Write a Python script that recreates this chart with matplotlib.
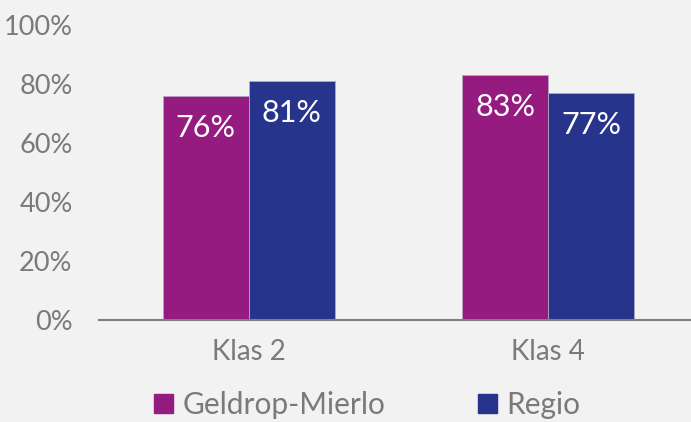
import numpy as np
import matplotlib.pyplot as plt
from matplotlib.patches import Patch

categories = ['Klas 2', 'Klas 4']
series_names = ['Geldrop-Mierlo', 'Regio']
geldrop = [0.76, 0.83]
regio = [0.81, 0.77]
y_ticks = [0, 0.2, 0.4, 0.6, 0.8, 1.0]
y_labels = ['0%', '20%', '40%', '60%', '80%', '100%']

colors = ['#951B81', '#27348B']
grey = '#7A7A7A'
bg = '#F2F2F2'

plt.rcParams['font.family'] = ['Lato', 'DejaVu Sans']

fig = plt.figure(figsize=(6.91, 4.22), dpi=100, facecolor=bg)
ax = fig.add_axes([99 / 691, 102 / 422, 599 / 691, 295 / 422])
ax.set_facecolor(bg)

x = np.arange(len(categories))
w = 0.287
for i, (vals, name) in enumerate(zip([geldrop, regio], series_names)):
    pos = x + (i - 0.5) * w
    ax.bar(pos, vals, width=w, color=colors[i], edgecolor='#B4A7C8',
           linewidth=0.6, label=name)
    for xp, v in zip(pos, vals):
        ax.annotate('%d%%' % round(v * 100), (xp, v), xytext=(0, -23),
                    textcoords='offset points', ha='center', va='center',
                    color='white', fontsize=22)

ax.set_xlim(-0.5, 1.5)
ax.set_ylim(0, 1)
ax.set_yticks(y_ticks)
ax.set_yticklabels(y_labels)
ax.set_xticks(x)
ax.set_xticklabels(categories)
ax.tick_params(axis='y', length=0, pad=19, labelsize=19.5, labelcolor=grey)
ax.tick_params(axis='x', length=0, pad=14, labelsize=20, labelcolor=grey)
for s in ['top', 'right', 'left']:
    ax.spines[s].set_visible(False)
ax.spines['bottom'].set_color('#7F7F7F')
ax.spines['bottom'].set_linewidth(1.5)

handles = [Patch(color=c, label=n) for c, n in zip(colors, series_names)]
fig.legend(handles=handles, loc='center', bbox_to_anchor=(0.531, 1 - 405 / 422),
           ncol=2, frameon=False, fontsize=21.5, labelcolor=grey,
           handlelength=0.65, handleheight=0.65, handletextpad=0.3,
           columnspacing=3.1, borderpad=0)

fig.savefig('out.png', dpi=100, facecolor=bg)
